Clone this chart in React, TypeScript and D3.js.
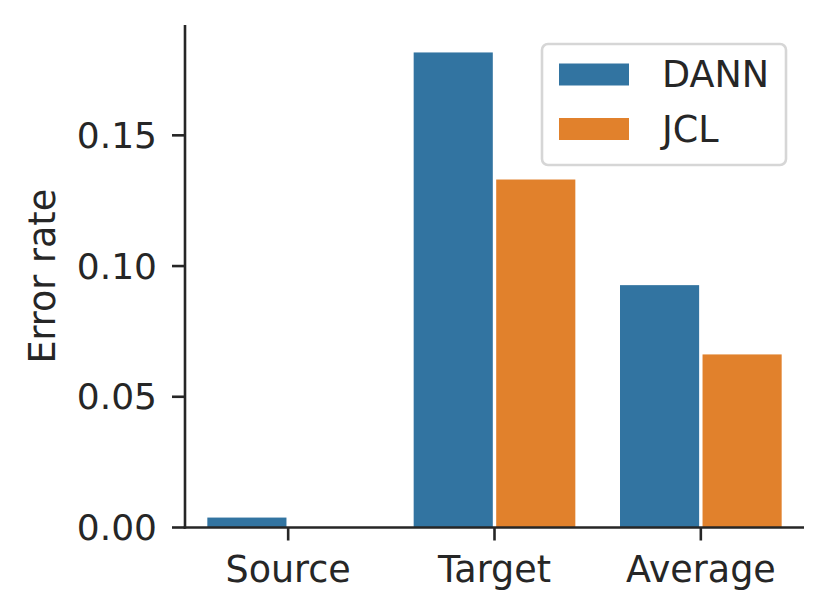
import * as d3 from "d3"

// Error rates
const categories = ["Source", "Target", "Average"]
const methods = ["DANN", "JCL"]
const dannValues = [0.0038, 0.1817, 0.0927]
const jclValues = [0.0, 0.1331, 0.0662]
const yTicks = [0.0, 0.05, 0.1, 0.15]
const colors = ["#3274a1", "#e1812c"]

const W = 830
const H = 616
const FONT = "DejaVu Sans"
const INK = "#262626"
const FS = 36.5

export default function App() {
  const x = d3.scaleBand<string>().domain(categories).range([185, 804]).paddingInner(0).paddingOuter(0)
  const inner = d3
    .scaleBand<string>()
    .domain(methods)
    .range([x.bandwidth() * 0.1, x.bandwidth() * 0.9])
  const y = d3.scaleLinear().domain([0, 0.1922]).range([527.5, 25])
  const color = d3.scaleOrdinal<string, string>().domain(methods).range(colors)

  const series = [dannValues, jclValues]
  const bars = methods.flatMap((m, mi) =>
    categories.map((c, ci) => ({ method: m, category: c, value: series[mi][ci] }))
  )
  const inset = 1.7
  const fmt = d3.format(".2f")

  return (
    <svg
      width={W}
      height={H}
      style={{ position: "absolute", left: 0, top: 0, background: "white" }}
      fontFamily={FONT}
    >
      {/* bars */}
      {bars.map((d) => {
        const x0 = (x(d.category) || 0) + (inner(d.method) || 0) + inset
        const w = inner.bandwidth() - 2 * inset
        const top = y(d.value)
        return (
          <rect
            key={d.method + d.category}
            x={x0}
            y={top}
            width={w}
            height={Math.max(0, y(0) - top)}
            fill={color(d.method)}
          />
        )
      })}

      {/* y axis */}
      <line x1={185} x2={185} y1={y.range()[1]} y2={y(0) + 1.3} stroke={INK} strokeWidth={2.6} />
      {yTicks.map((t) => (
        <g key={t}>
          <line x1={172} x2={185} y1={y(t)} y2={y(t)} stroke={INK} strokeWidth={2.6} />
          <text x={157} y={y(t)} textAnchor="end" dominantBaseline="central" fontSize={36} fill={INK}>
            {fmt(t)}
          </text>
        </g>
      ))}
      <text
        transform={`translate(55,${(y.range()[0] + y.range()[1]) / 2}) rotate(-90)`}
        textAnchor="middle"
        fontSize={FS}
        fill={INK}
      >
        Error rate
      </text>

      {/* x axis */}
      <line x1={183.7} x2={804} y1={y(0)} y2={y(0)} stroke={INK} strokeWidth={2.6} />
      {categories.map((c) => {
        const cx = (x(c) || 0) + x.bandwidth() / 2
        return (
          <g key={c}>
            <line x1={cx} x2={cx} y1={y(0)} y2={y(0) + 13} stroke={INK} strokeWidth={2.6} />
            <text x={cx} y={581.5} textAnchor="middle" fontSize={FS} fill={INK}>
              {c}
            </text>
          </g>
        )
      })}

      {/* legend */}
      <rect
        x={542}
        y={44}
        width={244}
        height={121}
        rx={6}
        fill="white"
        fillOpacity={0.8}
        stroke="#d6d6d6"
        strokeWidth={2.6}
      />
      {methods.map((m, i) => (
        <g key={m} transform={`translate(0,${i * 54.5})`}>
          <rect x={559} y={63.5} width={70} height={22} fill={color(m)} />
          <text x={662} y={87} fontSize={FS} fill={INK}>
            {m}
          </text>
        </g>
      ))}
    </svg>
  )
}
